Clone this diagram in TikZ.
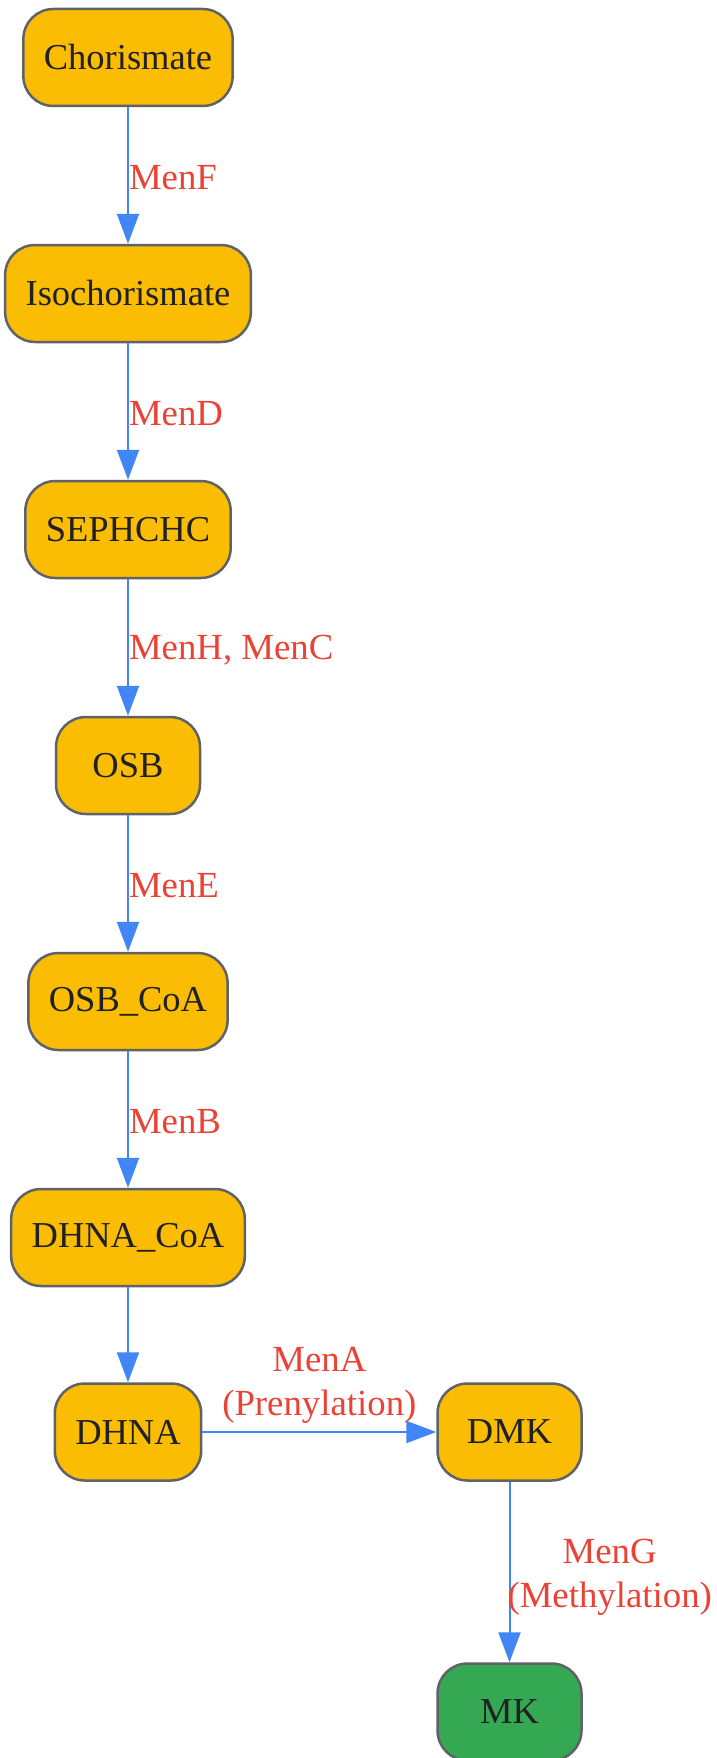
\documentclass[tikz,border=0pt]{standalone}
\usepackage{fontspec}
\setmainfont{Liberation Serif}
\usetikzlibrary{arrows.meta}
\definecolor{nodefill}{HTML}{FBBC04}
\definecolor{nodeline}{HTML}{5F6368}
\definecolor{nodetext}{HTML}{202124}
\definecolor{edgecol}{HTML}{4285F4}
\definecolor{labelcol}{HTML}{EA4335}
\definecolor{mkfill}{HTML}{34A853}
\begin{document}
\begin{tikzpicture}[x=1pt,y=-1pt,
  stepnode/.style={draw=nodeline, line width=2.5pt, fill=nodefill, rounded corners=30pt,
    minimum width=144pt, minimum height=97pt, inner xsep=20.5pt, text=nodetext,
    font=\fontsize{36.5}{43}\selectfont},
  finalnode/.style={stepnode, fill=mkfill},
  edge/.style={draw=edgecol, line width=2pt, -{Triangle[length=30pt,width=22pt]}},
  lbl/.style={text=labelcol, inner sep=0pt, align=center, font=\fontsize{36.8}{44}\selectfont},
  vlbl/.style={lbl, anchor=west, yshift=-2.5pt}
]
\useasboundingbox (0,0) rectangle (716,1758);
\node[stepnode] (cho) at (128,57.5) {Chorismate};
\node[stepnode] (iso) at (128,293.5) {Isochorismate};
\node[stepnode] (seph) at (128,529.5) {SEPHCHC};
\node[stepnode] (osb) at (128,765.5) {OSB};
\node[stepnode] (osbcoa) at (128,1001.5) {OSB\_CoA};
\node[stepnode] (dhnacoa) at (128,1237.5) {DHNA\_CoA};
\node[stepnode] (dhna) at (128,1432) {DHNA};
\node[stepnode] (dmk) at (509.5,1432) {DMK};
\node[finalnode] (mk) at (509.5,1712) {MK};

\draw[edge] (cho) -- node[vlbl] {MenF} (iso);
\draw[edge] (iso) -- node[vlbl] {MenD} (seph);
\draw[edge] (seph) -- node[vlbl] {MenH, MenC} (osb);
\draw[edge] (osb) -- node[vlbl] {MenE} (osbcoa);
\draw[edge] (osbcoa) -- node[vlbl] {MenB} (dhnacoa);
\draw[edge] (dhnacoa) -- (dhna);
\draw[edge] (dhna) -- node[lbl, anchor=south, yshift=8pt] {MenA\\(Prenylation)} (dmk);
\draw[edge] (dmk) -- node[lbl, anchor=west, xshift=-3pt, yshift=-5pt] {MenG\\(Methylation)} (mk);
\end{tikzpicture}
\end{document}
